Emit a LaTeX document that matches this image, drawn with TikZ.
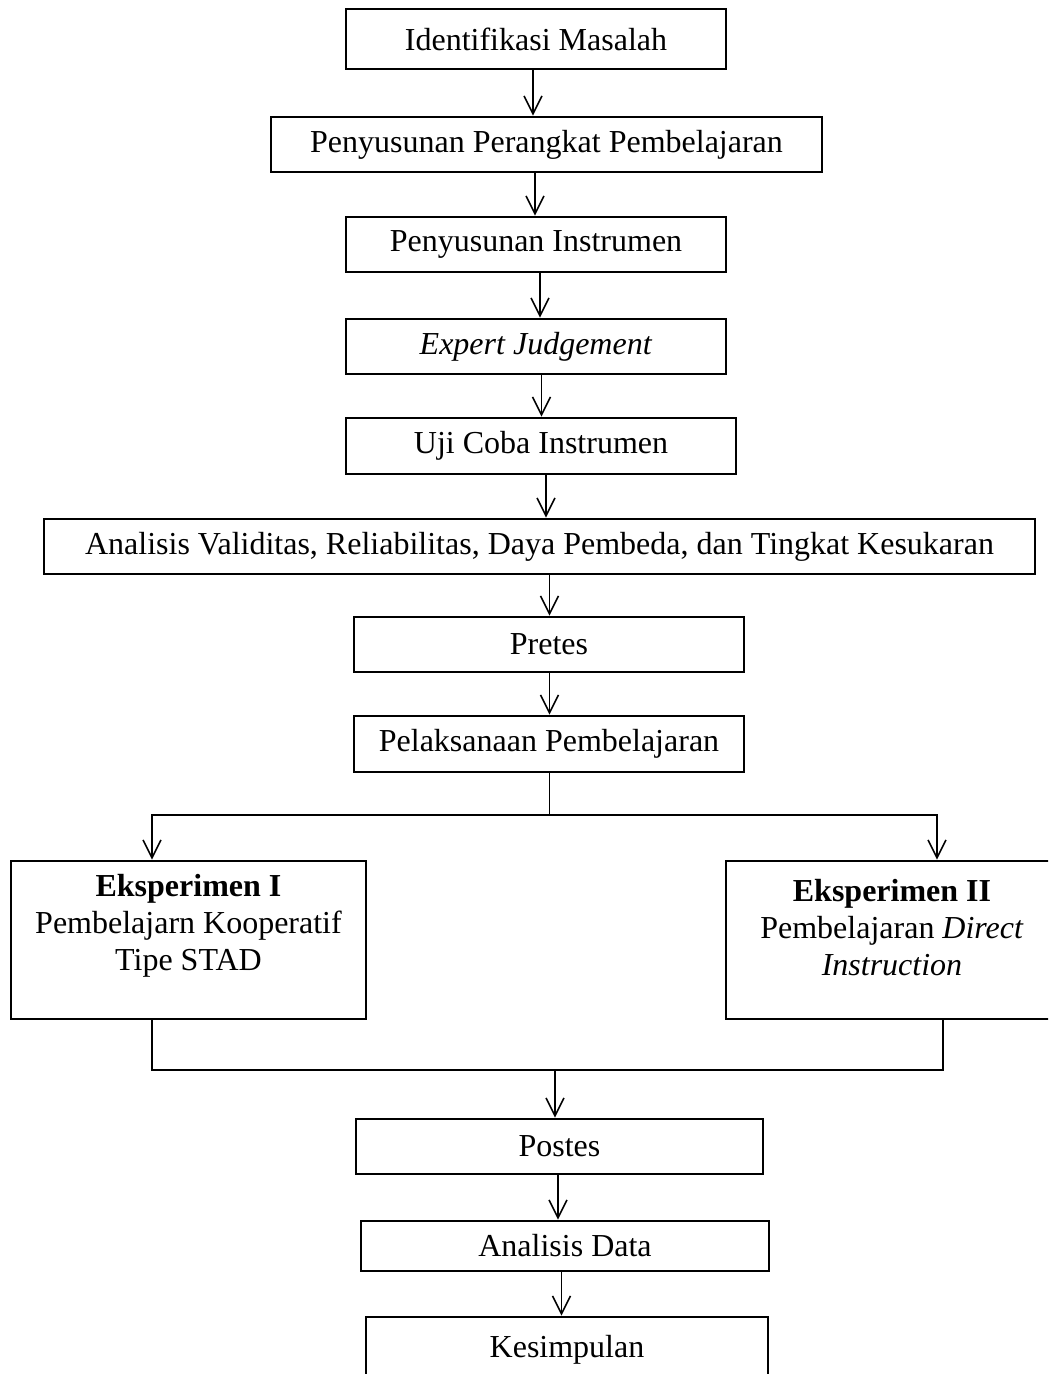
\documentclass[tikz,border=0pt]{standalone}
\usepackage{fontspec}
\setmainfont{Liberation Serif}
\usetikzlibrary{arrows.meta}

\begin{document}
\begin{tikzpicture}[x=0.5pt,y=-0.5pt,>={Straight Barb[length=9pt,width=9pt]},
  box/.style={draw,line width=1.3pt,inner sep=0pt,font=\fontsize{16}{18.5}\selectfont},
  lbl/.style={align=center,inner sep=0pt,font=\fontsize{16}{18.5}\selectfont},
  link/.style={line width=0.8pt}]
\clip (0,0) rectangle (1048,1374);
\node[box,minimum width=190pt,minimum height=30pt] (idm) at (536,39) {Identifikasi Masalah};
\node[box,minimum width=275.5pt,minimum height=27.5pt] (ppp) at (546.5,144.5) {Penyusunan Perangkat Pembelajaran};
\node[box,minimum width=190pt,minimum height=27.5pt] (pin) at (536,244.5) {Penyusunan Instrumen};
\node[box,minimum width=190pt,minimum height=27.5pt] (exj) at (536,346.5) {\textit{Expert Judgement}};
\node[box,minimum width=195pt,minimum height=28pt] (uci) at (541,446) {Uji Coba Instrumen};
\node[box,minimum width=495.5pt,minimum height=27.5pt] (ana) at (539.5,546.5) {Analisis Validitas, Reliabilitas, Daya Pembeda, dan Tingkat Kesukaran};
\node[box,minimum width=195pt,minimum height=27.5pt] (pre) at (549,644.5) {Pretes};
\node[box,minimum width=195pt,minimum height=28pt] (pel) at (549,744) {Pelaksanaan Pembelajaran};
% two experiment groups
\node[box,minimum width=177.5pt,minimum height=79pt] (ek1) at (188.5,940) {};
\node[lbl] (ek1txt) at (188.5,926) {\textbf{Eksperimen I}\\Pembelajarn Kooperatif\\Tipe STAD};
\node[box,minimum width=167pt,minimum height=79pt] (ek2) at (893,940) {};
\node[lbl] (ek2txt) at (892,928) {\textbf{Eksperimen II}\\Pembelajaran \textit{Direct}\\\textit{Instruction}};
\node[box,minimum width=203.5pt,minimum height=27.5pt] (pos) at (559.5,1146.5) {Postes};
\node[box,minimum width=204pt,minimum height=25pt] (and) at (565,1246) {Analisis Data};
\node[box,minimum width=201pt,minimum height=33pt] (kes) at (567,1350) {Kesimpulan};
\coordinate (split) at (549.5,815);
\coordinate (join) at (555,1070);

\draw[link,->] (533,0 |- idm.south) -- (533,0 |- ppp.north);
\draw[link,->] (535,0 |- ppp.south) -- (535,0 |- pin.north);
\draw[link,->] (540,0 |- pin.south) -- (540,0 |- exj.north);
\draw[link,->] (541.5,0 |- exj.south) -- (541.5,0 |- uci.north);
\draw[link,->] (546,0 |- uci.south) -- (546,0 |- ana.north);
\draw[link,->] (549.5,0 |- ana.south) -- (549.5,0 |- pre.north);
\draw[link,->] (549.5,0 |- pre.south) -- (549.5,0 |- pel.north);
\draw[link] (549.5,0 |- pel.south) -- (split);
\draw[link,->] (split) -| (152,0 |- ek1.north);
\draw[link,->] (split) -| (937,0 |- ek2.north);
\draw[link] (152,0 |- ek1.south) |- (join) -| (943,0 |- ek2.south);
\draw[link,->] (join) -- (join |- pos.north);
\draw[link,->] (558,0 |- pos.south) -- (558,0 |- and.north);
\draw[link,->] (561.5,0 |- and.south) -- (561.5,0 |- kes.north);
\end{tikzpicture}
\end{document}
